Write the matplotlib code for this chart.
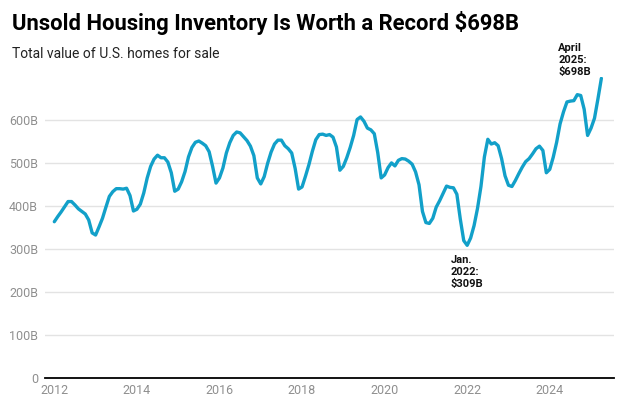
import numpy as np
import matplotlib.pyplot as plt

plt.rcParams['font.family'] = ['Roboto', 'DejaVu Sans']

# Total value of U.S. homes for sale, billions of dollars, monthly from Jan. 2012 to April 2025
start_year = 2012
values = [
    364, 376, 387, 399, 411, 411, 403, 394, 388, 382, 368, 338,  # 2012
    333, 352, 372, 398, 423, 434, 441, 441, 440, 442, 425, 389,  # 2013
    393, 405, 431, 466, 493, 510, 519, 513, 513, 503, 478, 435,  # 2014
    440, 457, 481, 515, 537, 549, 552, 547, 541, 527, 493, 454,  # 2015
    466, 489, 524, 548, 565, 573, 571, 562, 553, 540, 518, 466,  # 2016
    452, 469, 500, 526, 545, 554, 554, 541, 534, 524, 488, 440,  # 2017
    445, 470, 497, 528, 555, 567, 568, 565, 567, 561, 538, 484,  # 2018
    493, 513, 537, 565, 602, 608, 598, 582, 578, 569, 525, 466,  # 2019
    473, 490, 501, 494, 507, 511, 510, 505, 498, 480, 450, 388,  # 2020
    362, 360, 372, 398, 413, 430, 447, 444, 443, 428, 370, 320,  # 2021
    309, 326, 355, 395, 446, 515, 556, 545, 548, 541, 511, 471,  # 2022
    449, 446, 460, 476, 491, 504, 511, 522, 534, 540, 530, 478,  # 2023
    486, 514, 549, 592, 620, 643, 645, 646, 660, 658, 626, 565,  # 2024
    582, 605, 650, 698,                                          # 2025
]
dates = start_year + np.arange(len(values)) / 12

yticks = [0, 100, 200, 300, 400, 500, 600]
ytick_labels = ['0', '100B', '200B', '300B', '400B', '500B', '600B']
xticks = [2012, 2014, 2016, 2018, 2020, 2022, 2024]

low_idx = 120   # Jan. 2022
high_idx = 159  # April 2025

lineColor = '#12a0c9'
tickColor = '#8f8f8f'

fig = plt.figure(figsize=(6.21, 4.05), dpi=100)
ax = fig.add_axes([0.0725, 0.0667, 0.9165, 0.742])

ax.plot(dates, values, color=lineColor, linewidth=2.4, solid_capstyle='round',
        solid_joinstyle='round', zorder=3)

ax.set_xlim(2011.775, 2025.56)
ax.set_ylim(0, 700)
ax.set_yticks(yticks)
ax.set_yticklabels(ytick_labels)
ax.set_xticks(xticks)
ax.tick_params(axis='both', length=0, labelsize=9, labelcolor=tickColor)
ax.tick_params(axis='y', pad=5)
ax.tick_params(axis='x', pad=4)
ax.grid(axis='y', color='#e3e3e3', linewidth=1)
ax.set_axisbelow(True)
for side in ['top', 'right', 'left']:
    ax.spines[side].set_visible(False)
ax.spines['bottom'].set_color('black')
ax.spines['bottom'].set_linewidth(1.3)
ax.spines['bottom'].set_zorder(4)

annStyle = {'fontsize': 8, 'fontweight': 'bold', 'color': '#111111',
            'textcoords': 'offset points', 'linespacing': 1.25}
ax.annotate('Jan.\n2022:\n$' + str(values[low_idx]) + 'B',
            xy=(dates[low_idx], values[low_idx]), xytext=(-12, -7),
            ha='left', va='top', **annStyle)
ax.annotate('April\n2025:\n$' + str(values[high_idx]) + 'B',
            xy=(dates[high_idx], values[high_idx]), xytext=(-31, 1),
            ha='left', va='bottom', **annStyle)

fig.text(0.019, 0.972, 'Unsold Housing Inventory Is Worth a Record $698B',
         fontsize=15.8, fontweight='bold', color='black', ha='left', va='top')
fig.text(0.019, 0.885, 'Total value of U.S. homes for sale',
         fontsize=10, color='#222222', ha='left', va='top')

fig.savefig('out.png', dpi=100)
